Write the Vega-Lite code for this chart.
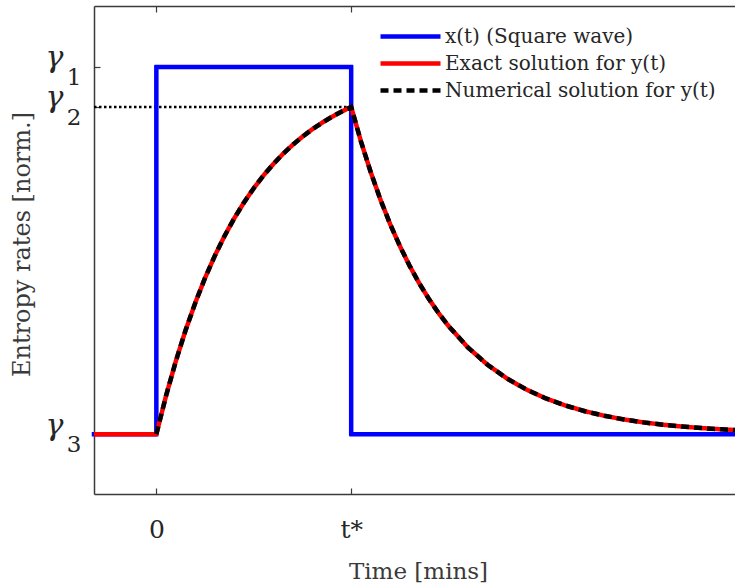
{
  "$schema": "https://vega.github.io/schema/vega-lite/v6.json",
  "width": 641,
  "height": 488,
  "autosize": {"type": "none"},
  "padding": {"left": 94, "top": 6, "right": 0, "bottom": 94},
  "background": "white",
  "config": {
    "view": {"stroke": null},
    "axis": {
      "labelFont": "DejaVu Serif",
      "titleFont": "DejaVu Serif",
      "labelColor": "#262626",
      "titleColor": "#3a3a3a",
      "domainColor": "#3a3a3a",
      "tickColor": "#3a3a3a",
      "domainWidth": 1.5,
      "tickWidth": 1.2,
      "grid": false,
      "titleFontWeight": "normal"
    }
  },
  "datasets": {
    "curves": [
      {"series": "x(t) (Square wave)", "i": 0, "t": -0.32, "y": 0},
      {"series": "x(t) (Square wave)", "i": 1, "t": 0, "y": 0},
      {"series": "x(t) (Square wave)", "i": 2, "t": 0, "y": 1},
      {"series": "x(t) (Square wave)", "i": 3, "t": 1, "y": 1},
      {"series": "x(t) (Square wave)", "i": 4, "t": 1, "y": 0},
      {"series": "x(t) (Square wave)", "i": 5, "t": 2.97, "y": 0},

      {"series": "Exact solution for y(t)", "i": 0, "t": -0.32, "y": 0},
      {"series": "Exact solution for y(t)", "i": 1, "t": 0, "y": 0},
      {"series": "Exact solution for y(t)", "i": 2, "t": 0.05, "y": 0.1049},
      {"series": "Exact solution for y(t)", "i": 3, "t": 0.1, "y": 0.1988},
      {"series": "Exact solution for y(t)", "i": 4, "t": 0.15, "y": 0.2828},
      {"series": "Exact solution for y(t)", "i": 5, "t": 0.2, "y": 0.358},
      {"series": "Exact solution for y(t)", "i": 6, "t": 0.25, "y": 0.4253},
      {"series": "Exact solution for y(t)", "i": 7, "t": 0.3, "y": 0.4856},
      {"series": "Exact solution for y(t)", "i": 8, "t": 0.35, "y": 0.5396},
      {"series": "Exact solution for y(t)", "i": 9, "t": 0.4, "y": 0.5879},
      {"series": "Exact solution for y(t)", "i": 10, "t": 0.45, "y": 0.6311},
      {"series": "Exact solution for y(t)", "i": 11, "t": 0.5, "y": 0.6698},
      {"series": "Exact solution for y(t)", "i": 12, "t": 0.55, "y": 0.7044},
      {"series": "Exact solution for y(t)", "i": 13, "t": 0.6, "y": 0.7354},
      {"series": "Exact solution for y(t)", "i": 14, "t": 0.65, "y": 0.7632},
      {"series": "Exact solution for y(t)", "i": 15, "t": 0.7, "y": 0.788},
      {"series": "Exact solution for y(t)", "i": 16, "t": 0.75, "y": 0.8102},
      {"series": "Exact solution for y(t)", "i": 17, "t": 0.8, "y": 0.8301},
      {"series": "Exact solution for y(t)", "i": 18, "t": 0.85, "y": 0.8479},
      {"series": "Exact solution for y(t)", "i": 19, "t": 0.9, "y": 0.8639},
      {"series": "Exact solution for y(t)", "i": 20, "t": 0.95, "y": 0.8782},
      {"series": "Exact solution for y(t)", "i": 21, "t": 1.0, "y": 0.891},
      {"series": "Exact solution for y(t)", "i": 22, "t": 1.05, "y": 0.7975},
      {"series": "Exact solution for y(t)", "i": 23, "t": 1.1, "y": 0.7139},
      {"series": "Exact solution for y(t)", "i": 24, "t": 1.15, "y": 0.639},
      {"series": "Exact solution for y(t)", "i": 25, "t": 1.2, "y": 0.572},
      {"series": "Exact solution for y(t)", "i": 26, "t": 1.25, "y": 0.5121},
      {"series": "Exact solution for y(t)", "i": 27, "t": 1.3, "y": 0.4583},
      {"series": "Exact solution for y(t)", "i": 28, "t": 1.35, "y": 0.4102},
      {"series": "Exact solution for y(t)", "i": 29, "t": 1.4, "y": 0.3672},
      {"series": "Exact solution for y(t)", "i": 30, "t": 1.45, "y": 0.3287},
      {"series": "Exact solution for y(t)", "i": 31, "t": 1.5, "y": 0.2942},
      {"series": "Exact solution for y(t)", "i": 32, "t": 1.6, "y": 0.2358},
      {"series": "Exact solution for y(t)", "i": 33, "t": 1.7, "y": 0.1889},
      {"series": "Exact solution for y(t)", "i": 34, "t": 1.8, "y": 0.1514},
      {"series": "Exact solution for y(t)", "i": 35, "t": 1.9, "y": 0.1213},
      {"series": "Exact solution for y(t)", "i": 36, "t": 2.0, "y": 0.0972},
      {"series": "Exact solution for y(t)", "i": 37, "t": 2.1, "y": 0.0779},
      {"series": "Exact solution for y(t)", "i": 38, "t": 2.2, "y": 0.0624},
      {"series": "Exact solution for y(t)", "i": 39, "t": 2.3, "y": 0.05},
      {"series": "Exact solution for y(t)", "i": 40, "t": 2.4, "y": 0.04},
      {"series": "Exact solution for y(t)", "i": 41, "t": 2.5, "y": 0.0321},
      {"series": "Exact solution for y(t)", "i": 42, "t": 2.6, "y": 0.0257},
      {"series": "Exact solution for y(t)", "i": 43, "t": 2.7, "y": 0.0206},
      {"series": "Exact solution for y(t)", "i": 44, "t": 2.8, "y": 0.0165},
      {"series": "Exact solution for y(t)", "i": 45, "t": 2.9, "y": 0.0132},
      {"series": "Exact solution for y(t)", "i": 46, "t": 2.97, "y": 0.0113},

      {"series": "Numerical solution for y(t)", "i": 1, "t": 0, "y": 0},
      {"series": "Numerical solution for y(t)", "i": 2, "t": 0.05, "y": 0.1049},
      {"series": "Numerical solution for y(t)", "i": 3, "t": 0.1, "y": 0.1988},
      {"series": "Numerical solution for y(t)", "i": 4, "t": 0.15, "y": 0.2828},
      {"series": "Numerical solution for y(t)", "i": 5, "t": 0.2, "y": 0.358},
      {"series": "Numerical solution for y(t)", "i": 6, "t": 0.25, "y": 0.4253},
      {"series": "Numerical solution for y(t)", "i": 7, "t": 0.3, "y": 0.4856},
      {"series": "Numerical solution for y(t)", "i": 8, "t": 0.35, "y": 0.5396},
      {"series": "Numerical solution for y(t)", "i": 9, "t": 0.4, "y": 0.5879},
      {"series": "Numerical solution for y(t)", "i": 10, "t": 0.45, "y": 0.6311},
      {"series": "Numerical solution for y(t)", "i": 11, "t": 0.5, "y": 0.6698},
      {"series": "Numerical solution for y(t)", "i": 12, "t": 0.55, "y": 0.7044},
      {"series": "Numerical solution for y(t)", "i": 13, "t": 0.6, "y": 0.7354},
      {"series": "Numerical solution for y(t)", "i": 14, "t": 0.65, "y": 0.7632},
      {"series": "Numerical solution for y(t)", "i": 15, "t": 0.7, "y": 0.788},
      {"series": "Numerical solution for y(t)", "i": 16, "t": 0.75, "y": 0.8102},
      {"series": "Numerical solution for y(t)", "i": 17, "t": 0.8, "y": 0.8301},
      {"series": "Numerical solution for y(t)", "i": 18, "t": 0.85, "y": 0.8479},
      {"series": "Numerical solution for y(t)", "i": 19, "t": 0.9, "y": 0.8639},
      {"series": "Numerical solution for y(t)", "i": 20, "t": 0.95, "y": 0.8782},
      {"series": "Numerical solution for y(t)", "i": 21, "t": 1.0, "y": 0.891},
      {"series": "Numerical solution for y(t)", "i": 22, "t": 1.05, "y": 0.7975},
      {"series": "Numerical solution for y(t)", "i": 23, "t": 1.1, "y": 0.7139},
      {"series": "Numerical solution for y(t)", "i": 24, "t": 1.15, "y": 0.639},
      {"series": "Numerical solution for y(t)", "i": 25, "t": 1.2, "y": 0.572},
      {"series": "Numerical solution for y(t)", "i": 26, "t": 1.25, "y": 0.5121},
      {"series": "Numerical solution for y(t)", "i": 27, "t": 1.3, "y": 0.4583},
      {"series": "Numerical solution for y(t)", "i": 28, "t": 1.35, "y": 0.4102},
      {"series": "Numerical solution for y(t)", "i": 29, "t": 1.4, "y": 0.3672},
      {"series": "Numerical solution for y(t)", "i": 30, "t": 1.45, "y": 0.3287},
      {"series": "Numerical solution for y(t)", "i": 31, "t": 1.5, "y": 0.2942},
      {"series": "Numerical solution for y(t)", "i": 32, "t": 1.6, "y": 0.2358},
      {"series": "Numerical solution for y(t)", "i": 33, "t": 1.7, "y": 0.1889},
      {"series": "Numerical solution for y(t)", "i": 34, "t": 1.8, "y": 0.1514},
      {"series": "Numerical solution for y(t)", "i": 35, "t": 1.9, "y": 0.1213},
      {"series": "Numerical solution for y(t)", "i": 36, "t": 2.0, "y": 0.0972},
      {"series": "Numerical solution for y(t)", "i": 37, "t": 2.1, "y": 0.0779},
      {"series": "Numerical solution for y(t)", "i": 38, "t": 2.2, "y": 0.0624},
      {"series": "Numerical solution for y(t)", "i": 39, "t": 2.3, "y": 0.05},
      {"series": "Numerical solution for y(t)", "i": 40, "t": 2.4, "y": 0.04},
      {"series": "Numerical solution for y(t)", "i": 41, "t": 2.5, "y": 0.0321},
      {"series": "Numerical solution for y(t)", "i": 42, "t": 2.6, "y": 0.0257},
      {"series": "Numerical solution for y(t)", "i": 43, "t": 2.7, "y": 0.0206},
      {"series": "Numerical solution for y(t)", "i": 44, "t": 2.8, "y": 0.0165},
      {"series": "Numerical solution for y(t)", "i": 45, "t": 2.9, "y": 0.0132},
      {"series": "Numerical solution for y(t)", "i": 46, "t": 2.97, "y": 0.0113}
    ],
    "gamma2": [
      {"t": -0.32, "y": 0.891},
      {"t": 1.0, "y": 0.891}
    ],
    "subscripts": [
      {"sub": "1", "y": 1},
      {"sub": "2", "y": 0.891},
      {"sub": "3", "y": 0}
    ]
  },
  "resolve": {"axis": {"x": "independent"}},
  "layer": [
    {
      "data": {"name": "gamma2"},
      "mark": {"type": "line", "color": "black", "strokeWidth": 2.5, "strokeDash": [2.5, 2.5]},
      "encoding": {
        "x": {"field": "t", "type": "quantitative", "scale": {"domain": [-0.32, 2.97], "nice": false, "zero": false},
              "axis": {"orient": "top", "values": [0, 1], "labels": false, "tickSize": -6, "title": null, "domain": true}},
        "y": {"field": "y", "type": "quantitative", "scale": {"domain": [-0.163, 1.166], "nice": false, "zero": false},
              "axis": {"orient": "left", "values": [0, 0.891, 1], "tickSize": -6, "labelPadding": 37,
                       "labelExpr": "'γ'",
                       "labelFontSize": 30, "labelFontStyle": "italic", "labelBaseline": "alphabetic", "labelDy": 1,
                       "title": "Entropy rates [norm.]", "titleFontSize": 24, "titleX": -72, "titleY": 238,
                       "titleBaseline": "middle", "titleAngle": -90}}
      }
    },
    {
      "data": {"name": "subscripts"},
      "mark": {"type": "text", "font": "DejaVu Serif", "fontSize": 23, "color": "#262626",
               "align": "center", "baseline": "alphabetic", "dx": -20, "dy": 18},
      "encoding": {
        "x": {"datum": -0.32, "type": "quantitative", "axis": null},
        "y": {"field": "y", "type": "quantitative"},
        "text": {"field": "sub", "type": "nominal"}
      }
    },
    {
      "data": {"name": "curves"},
      "transform": [{"filter": "datum.series == 'x(t) (Square wave)'"}],
      "mark": {"type": "line", "strokeCap": "square", "strokeJoin": "round"},
      "encoding": {
        "x": {"field": "t", "type": "quantitative",
              "axis": {"orient": "bottom", "values": [0, 1], "tickSize": -6, "labelPadding": 29,
                       "labelExpr": "datum.value == 0 ? '0' : 't*'", "labelFontSize": 25,
                       "title": "Time [mins]", "titleFontSize": 23, "titleX": 324, "titleY": 77,
                       "titleBaseline": "middle"}},
        "y": {"field": "y", "type": "quantitative"},
        "order": {"field": "i", "type": "quantitative"},
        "color": {"field": "series", "type": "nominal",
                  "scale": {"domain": ["x(t) (Square wave)", "Exact solution for y(t)", "Numerical solution for y(t)"],
                            "range": ["#0000ff", "#ff0000", "#000000"]},
                  "legend": {"orient": "none", "legendX": 304, "legendY": 18, "title": null,
                             "symbolType": "M-3,0H3", "symbolSize": 400, "labelFont": "DejaVu Serif",
                             "labelFontSize": 20, "labelColor": "#262626", "labelOffset": 22,
                             "rowPadding": 4, "padding": 0, "labelLimit": 400}},
        "strokeDash": {"field": "series", "type": "nominal",
                       "scale": {"domain": ["x(t) (Square wave)", "Exact solution for y(t)", "Numerical solution for y(t)"],
                                 "range": [[1, 0], [1, 0], [8, 5]]}},
        "strokeWidth": {"field": "series", "type": "nominal",
                        "scale": {"domain": ["x(t) (Square wave)", "Exact solution for y(t)", "Numerical solution for y(t)"],
                                  "range": [4.5, 4.5, 3]}}
      }
    },
    {
      "data": {"name": "curves"},
      "transform": [{"filter": "datum.series == 'Exact solution for y(t)'"}],
      "mark": {"type": "line", "strokeJoin": "round"},
      "encoding": {
        "x": {"field": "t", "type": "quantitative", "axis": null},
        "y": {"field": "y", "type": "quantitative"},
        "order": {"field": "i", "type": "quantitative"},
        "color": {"field": "series", "type": "nominal"},
        "strokeDash": {"field": "series", "type": "nominal"},
        "strokeWidth": {"field": "series", "type": "nominal"}
      }
    },
    {
      "data": {"name": "curves"},
      "transform": [{"filter": "datum.series == 'Numerical solution for y(t)'"}],
      "mark": {"type": "line"},
      "encoding": {
        "x": {"field": "t", "type": "quantitative", "axis": null},
        "y": {"field": "y", "type": "quantitative"},
        "order": {"field": "i", "type": "quantitative"},
        "color": {"field": "series", "type": "nominal"},
        "strokeDash": {"field": "series", "type": "nominal"},
        "strokeWidth": {"field": "series", "type": "nominal"}
      }
    }
  ]
}
